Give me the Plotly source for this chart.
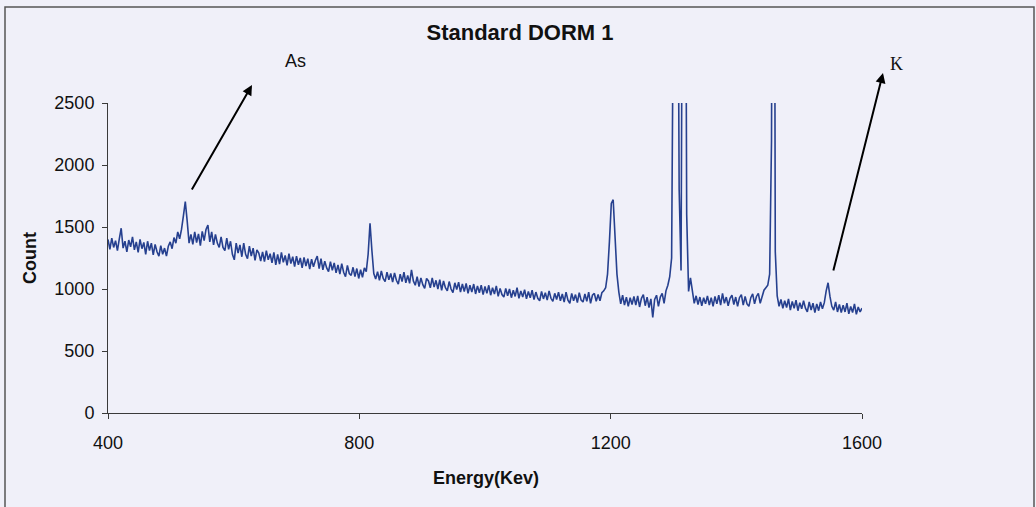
import plotly.graph_objects as go

# Energy channels (keV), 3 keV spacing
energy_start = 400
energy_step = 3
# Counts (rows of 10 channels = 30 keV each)
counts = [
    1400, 1320, 1410, 1335, 1390, 1310, 1405, 1490, 1330, 1385,   # 400
    1300, 1395, 1340, 1420, 1315, 1380, 1295, 1400, 1325, 1375,   # 430
    1280, 1385, 1310, 1370, 1275, 1360, 1300, 1265, 1350, 1280,   # 460
    1330, 1265, 1345, 1380, 1325, 1415, 1370, 1460, 1405, 1480,   # 490
    1590, 1705, 1550, 1370, 1440, 1360, 1460, 1375, 1445, 1350,   # 520
    1465, 1390, 1480, 1515, 1380, 1460, 1355, 1440, 1370, 1335,   # 550
    1420, 1335, 1310, 1410, 1320, 1385, 1280, 1235, 1370, 1290,   # 580
    1355, 1260, 1370, 1280, 1245, 1345, 1265, 1330, 1230, 1315,   # 610
    1290, 1225, 1300, 1220, 1310, 1235, 1285, 1210, 1295, 1195,   # 640
    1280, 1200, 1295, 1215, 1270, 1190, 1285, 1205, 1260, 1180,   # 670
    1265, 1195, 1250, 1170, 1255, 1185, 1245, 1160, 1240, 1180,   # 700
    1230, 1265, 1165, 1245, 1155, 1225, 1170, 1140, 1220, 1150,   # 730
    1210, 1130, 1195, 1120, 1205, 1135, 1100, 1190, 1125, 1110,   # 760
    1175, 1100, 1165, 1085, 1155, 1095, 1170, 1140, 1280, 1530,   # 790
    1310, 1125, 1080, 1140, 1070, 1145, 1085, 1060, 1135, 1075,   # 820
    1125, 1055, 1130, 1070, 1040, 1120, 1060, 1135, 1050, 1110,   # 850
    1045, 1155, 1065, 1030, 1100, 1020, 1090, 1035, 1005, 1085,   # 880
    1065, 1010, 1090, 1015, 1070, 1000, 1075, 990, 1065, 1010,    # 910
    985, 1060, 1000, 970, 1050, 995, 1055, 975, 1040, 980,        # 940
    1045, 965, 1030, 975, 1040, 960, 1025, 970, 1030, 955,        # 970
    1020, 965, 1030, 950, 1010, 960, 1025, 940, 1005, 955,        # 1000
    935, 1005, 945, 1000, 930, 990, 940, 1010, 925, 985,          # 1030
    935, 995, 920, 980, 930, 990, 915, 975, 925, 905,             # 1060
    980, 920, 970, 910, 985, 925, 900, 965, 915, 975,             # 1090
    905, 960, 895, 975, 910, 885, 965, 905, 955, 890,             # 1120
    970, 910, 895, 960, 900, 975, 885, 950, 965, 900,             # 1150
    955, 905, 970, 985, 1010, 1120, 1380, 1690, 1720, 1450,       # 1180
    1120, 975, 880, 950, 870, 935, 860, 930, 875, 940,            # 1210
    870, 945, 855, 925, 955, 865, 935, 850, 920, 770,             # 1240
    915, 950, 860, 935, 965, 885, 985, 1030, 1100, 1250,          # 1270
    2200, 6000, 5000, 1800, 1150, 5000, 6000, 1600, 980, 1090,    # 1300
    975, 885, 945, 875, 935, 865, 930, 880, 945, 870,             # 1330
    930, 860, 940, 880, 950, 870, 965, 885, 935, 865,             # 1360
    925, 950, 875, 935, 860, 930, 955, 870, 940, 880,             # 1390
    860, 930, 960, 880, 940, 965, 885, 950, 990, 1010,            # 1420
    1030, 1120, 2200, 8000, 1300, 945, 860, 915, 845, 905,        # 1450
    850, 920, 830, 900, 845, 910, 825, 890, 840, 905,             # 1480
    845, 815, 895, 830, 885, 810, 880, 825, 895, 840,             # 1510
    890, 985, 1050, 940, 860, 830, 895, 815, 875, 810,            # 1540
    870, 815, 885, 800, 860, 810, 880, 795, 855, 815,             # 1570
    845,                                                          # 1600
]
energy = [energy_start + energy_step * i for i in range(len(counts))]

x_ticks = [400, 800, 1200, 1600]
y_ticks = [0, 500, 1000, 1500, 2000, 2500]

title_text = "Standard DORM 1"
x_label = "Energy(Kev)"
y_label = "Count"

BG = "#f0f0f9"
LINE = "#26408f"
AX = "#3a3a3a"
SANS = "Liberation Sans, Arial, sans-serif"
SERIF = "Liberation Serif, Times New Roman, serif"

fig = go.Figure()
fig.add_trace(go.Scatter(x=energy, y=counts, mode="lines",
                         line=dict(color=LINE, width=1.6),
                         showlegend=False, hoverinfo="skip"))

fig.update_layout(
    width=1036, height=507,
    margin=dict(l=108, r=174, t=103, b=94),
    paper_bgcolor=BG, plot_bgcolor=BG,
    font=dict(family=SANS, color="#111", size=18),
    title=dict(text="<b>" + title_text + "</b>", x=520 / 1036, xanchor="center",
               y=1 - 32 / 507, yanchor="middle",
               font=dict(size=22, family=SANS, color="#111")),
    showlegend=False,
)
fig.update_xaxes(range=[400, 1600], tickvals=x_ticks, ticktext=[str(v) for v in x_ticks],
                 showgrid=False, zeroline=False, showline=True, linecolor=AX, linewidth=1,
                 ticks="outside", ticklen=5, tickcolor=AX, tickfont=dict(size=18),
                 ticklabelstandoff=8)
fig.update_yaxes(range=[0, 2500], tickvals=y_ticks, ticktext=[str(v) for v in y_ticks],
                 showgrid=False, zeroline=False, showline=True, linecolor=AX, linewidth=1,
                 ticks="outside", ticklen=5, tickcolor=AX, tickfont=dict(size=18),
                 ticklabelstandoff=4)

# axis titles as annotations
fig.add_annotation(text="<b>" + y_label + "</b>", xref="paper", yref="paper",
                   x=(30 - 108) / 754, y=0.5, textangle=-90, showarrow=False,
                   font=dict(size=18), xanchor="center", yanchor="middle")
fig.add_annotation(text="<b>" + x_label + "</b>", xref="paper", yref="paper",
                   x=0.501, y=(413 - 478) / 310, showarrow=False,
                   font=dict(size=18), xanchor="center", yanchor="middle")

# element labels and arrows
fig.add_annotation(text="As", xref="paper", yref="paper",
                   x=(283 - 108) / 754, y=(413 - 49) / 310, showarrow=False,
                   font=dict(size=18, family=SANS))
fig.add_annotation(text="K", xref="paper", yref="paper",
                   x=(905 - 108) / 754, y=(413 - 52) / 310, showarrow=False,
                   font=dict(size=18, family=SERIF))
fig.add_annotation(text="", xref="paper", yref="paper",
                   x=(252 - 108) / 754, y=(413 - 85) / 310,
                   ax=191 - 252, ay=191 - 85, showarrow=True,
                   arrowhead=2, arrowsize=1, arrowwidth=2, arrowcolor="#000")
fig.add_annotation(text="", xref="paper", yref="paper",
                   x=(883 - 108) / 754, y=(413 - 73) / 310,
                   ax=833 - 883, ay=272 - 73, showarrow=True,
                   arrowhead=2, arrowsize=1, arrowwidth=2, arrowcolor="#000")

# outer frame
fig.add_shape(type="rect", xref="paper", yref="paper",
              x0=(5 - 108) / 754, x1=(1034 - 108) / 754,
              y0=(413 - 530) / 310, y1=(413 - 7) / 310,
              line=dict(color="#555", width=1.5), fillcolor="rgba(0,0,0,0)", layer="below")

fig.write_html("out.html")
